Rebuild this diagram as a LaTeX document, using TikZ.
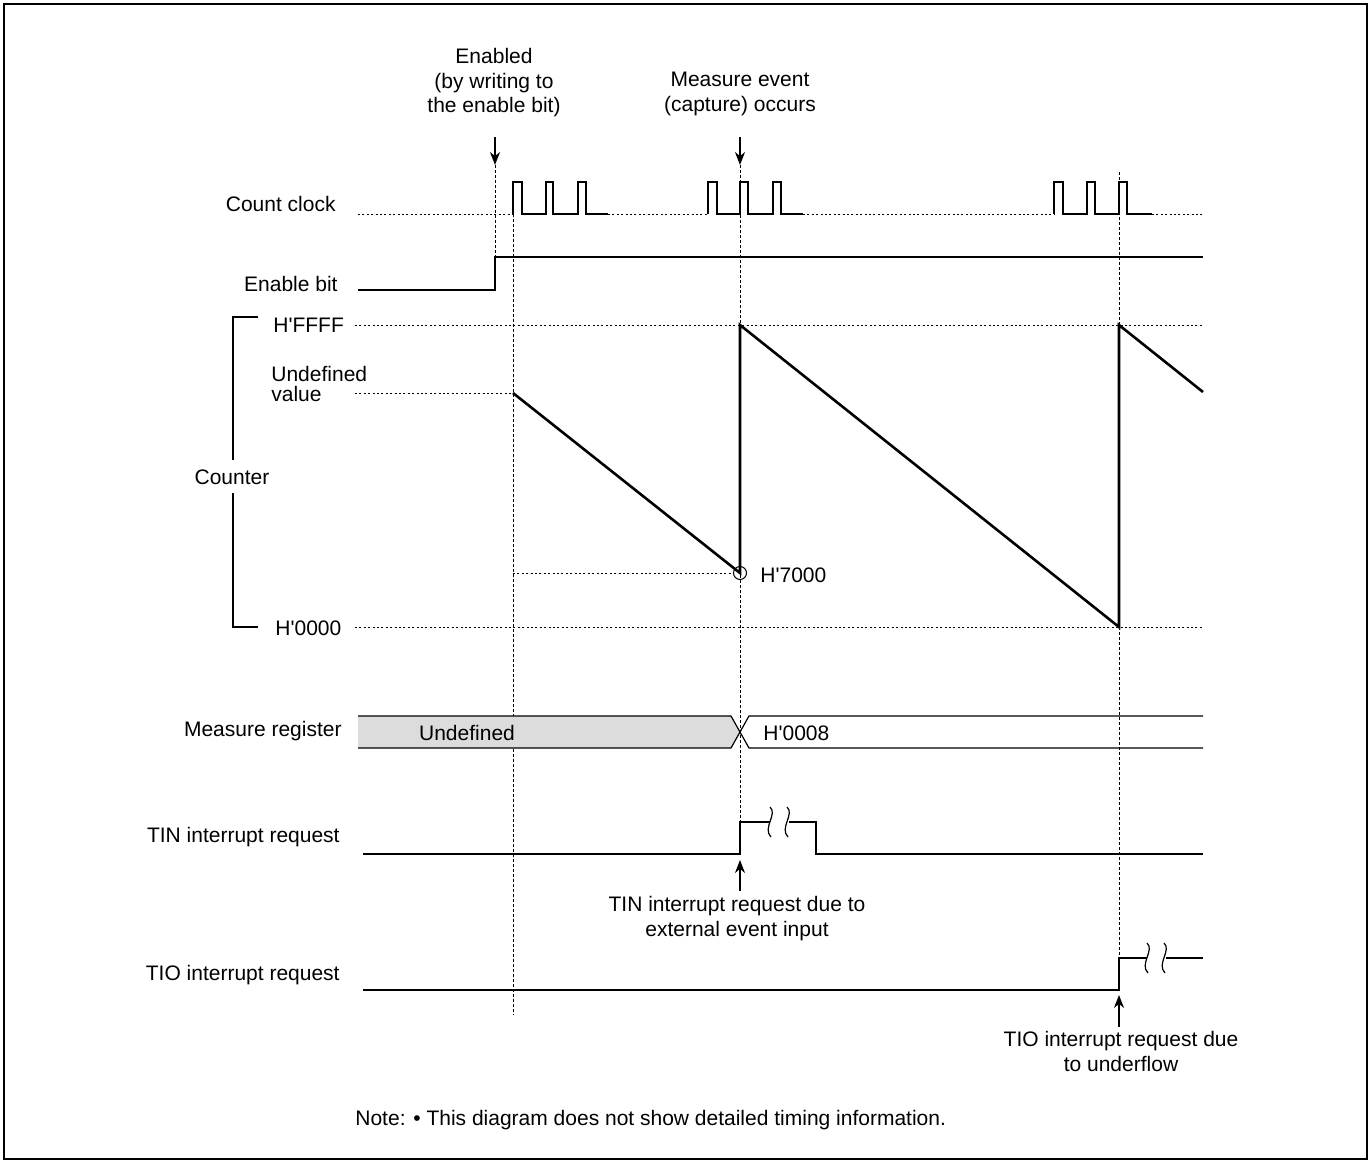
\documentclass[tikz,border=0pt]{standalone}
\usepackage{fontspec}
\setmainfont{Liberation Sans}
\usetikzlibrary{arrows.meta}
\definecolor{regfill}{HTML}{DCDCDC}
\newcommand{\apos}{\textquotesingle}
\begin{document}
\begin{tikzpicture}[x=0.5pt,y=-0.5pt,
  lbl/.style={inner sep=0pt, font=\fontsize{10.5}{12.25}\selectfont},
  wave/.style={line width=0.6pt},
  saw/.style={line width=1.3pt},
  guide/.style={line width=0.45pt, dash pattern=on 1.5pt off 1pt},
  dotline/.style={line width=0.45pt, dash pattern=on 1pt off 1.2pt},
  pointer/.style={line width=0.6pt, -{Stealth[length=6.5pt,width=5pt]}},
  brk/.pic={\draw[wave] (0,-15) .. controls (8,-8) and (-8,6) .. (1,15);}
]
\useasboundingbox (0,0) rectangle (1372,1164);
\draw[line width=0.6pt] (4,4) rectangle (1367,1159);

% ---- top annotations
\node[lbl, align=center, anchor=north] (en) at (494,48) {Enabled\\(by writing to\\the enable bit)};
\node[lbl, align=center, anchor=north] (me) at (740,72) {Measure event\\(capture) occurs};
\coordinate (enTip) at (495,165);
\coordinate (meTip) at (740,165);
\draw[pointer] (495,137) -- (enTip);
\draw[pointer] (740,137) -- (meTip);

% ---- guide lines
\draw[guide] (enTip) -- (495,257);
\draw[guide] (513,214) -- (513,1015);
\draw[guide] (meTip) -- (740,822);
\draw[guide] (1119,172) -- (1119,958);

% ---- Count clock
\node[lbl, anchor=east] (cc) at (336,204) {Count clock};
\draw[dotline] (358,214) -- (513,214);
\draw[wave] (513,214) -- (513,182) -- (522,182) -- (522,214) -- (546,214) -- (546,182) -- (553,182) -- (553,214)
  -- (578,214) -- (578,182) -- (586,182) -- (586,214) -- (608,214);
\draw[dotline] (608,214) -- (708,214);
\draw[wave] (708,214) -- (708,182) -- (717,182) -- (717,214) -- (740,214) -- (740,182) -- (748,182) -- (748,214)
  -- (773,214) -- (773,182) -- (781,182) -- (781,214) -- (803,214);
\draw[dotline] (803,214) -- (1054,214);
\draw[wave] (1054,214) -- (1054,182) -- (1063,182) -- (1063,214) -- (1087,214) -- (1087,182) -- (1095,182) -- (1095,214)
  -- (1119,214) -- (1119,182) -- (1127,182) -- (1127,214) -- (1152,214);
\draw[dotline] (1152,214) -- (1203,214);

% ---- Enable bit
\node[lbl, anchor=east] (eb) at (338,284) {Enable bit};
\draw[wave] (358,290) -- (495,290) -- (495,257) -- (1203,257);

% ---- Counter
\node[lbl, anchor=west] (hf) at (273,325) {H\apos FFFF};
\node[lbl, anchor=west, align=left, font=\fontsize{10.5}{10}\selectfont] (uv) at (271,384) {Undefined\\value};
\node[lbl] (cnt) at (232,477) {Counter};
\node[lbl, anchor=west] (h0) at (275,628) {H\apos 0000};
\node[lbl, anchor=west] (h7) at (760,575) {H\apos 7000};
\draw[wave] (258,317) -- (233,317) -- (233,460);
\draw[wave] (233,493) -- (233,627) -- (258,627);
\draw[dotline] (355,325) -- (1203,325);
\draw[dotline] (355,393) -- (513,393);
\draw[dotline] (513,573) -- (733,573);
\draw[dotline] (355,627) -- (1203,627);
\draw[saw] (513,393) -- (740,573) -- (740,325) -- (1119,627) -- (1119,325) -- (1203,392);
\coordinate (cap) at (740,573);
\draw[line width=0.5pt] (cap) circle[radius=6.5];

% ---- Measure register
\node[lbl, anchor=east] (mr) at (342,731) {Measure register};
\fill[regfill] (358,716) -- (731,716) -- (740,732) -- (731,748) -- (358,748) -- cycle;
\draw[wave] (358,716) -- (731,716) -- (740,732) -- (731,748) -- (358,748);
\draw[wave] (1203,716) -- (749,716) -- (740,732) -- (749,748) -- (1203,748);
\node[lbl] (und) at (467,733) {Undefined};
\node[lbl, anchor=west] (h8) at (763,733) {H\apos 0008};

% ---- TIN interrupt request
\node[lbl, anchor=east] (tin) at (340,837) {TIN interrupt request};
\draw[wave] (363,854) -- (740,854) -- (740,822) -- (770,822);
\draw[wave] (789,822) -- (816,822) -- (816,854) -- (1203,854);
\pic at (770,822) {brk};
\pic at (787,822) {brk};
\node[lbl, align=center, anchor=north] (tinN) at (737,896) {TIN interrupt request due to\\external event input};
\draw[pointer] (740,891) -- (740,860);

% ---- TIO interrupt request
\node[lbl, anchor=east] (tio) at (340,975) {TIO interrupt request};
\draw[wave] (363,990) -- (1119,990) -- (1119,958) -- (1147,958);
\draw[wave] (1166,958) -- (1203,958);
\pic at (1147,958) {brk};
\pic at (1164,958) {brk};
\node[lbl, align=center, anchor=north] (tioN) at (1121,1031) {TIO interrupt request due\\to underflow};
\draw[pointer] (1119,1027) -- (1119,995);

% ---- Note
\node[lbl, anchor=west] (note) at (355,1120) {Note: \textbullet\ This diagram does not show detailed timing information.};
\end{tikzpicture}
\end{document}
